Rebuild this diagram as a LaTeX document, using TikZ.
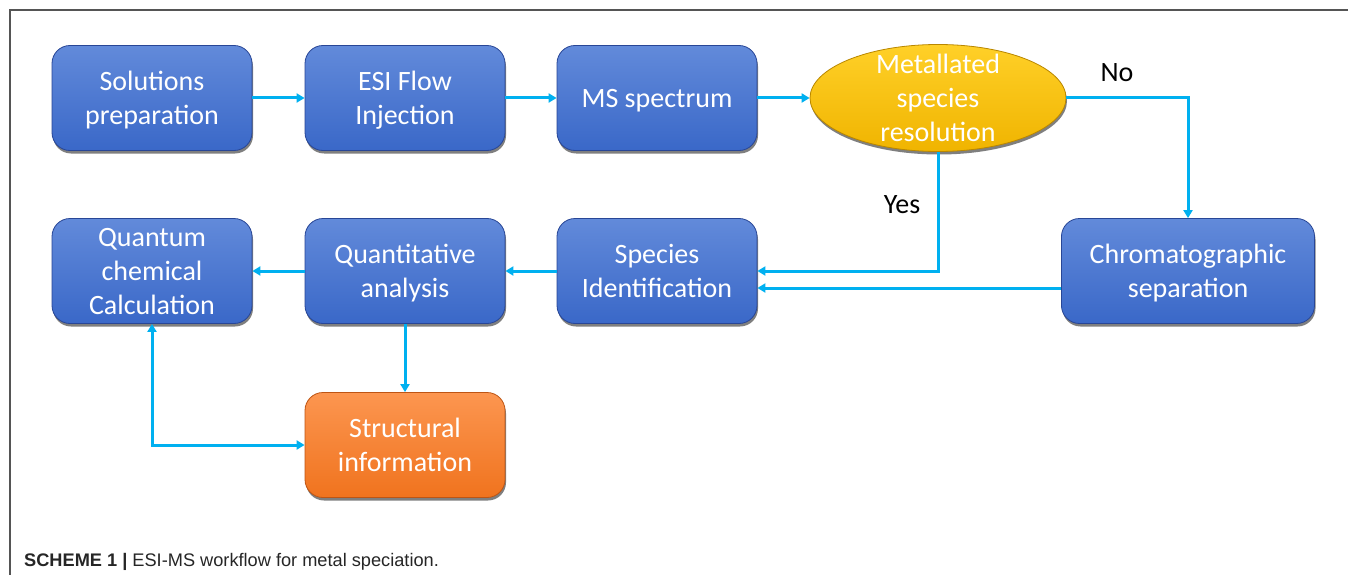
\documentclass[tikz,border=0pt]{standalone}
\usepackage{fontspec}
\setmainfont{Carlito}
\newfontfamily\capfont{Liberation Sans}
\usetikzlibrary{shadows,calc,arrows.meta,shapes.geometric}
\definecolor{arrc}{RGB}{0,176,240}
\definecolor{btop}{RGB}{98,138,218}
\definecolor{bbot}{RGB}{58,104,200}
\definecolor{bedge}{RGB}{40,70,150}
\definecolor{gtop}{RGB}{255,208,40}
\definecolor{gbot}{RGB}{240,180,0}
\definecolor{gedge}{RGB}{185,135,0}
\definecolor{otop}{RGB}{252,150,80}
\definecolor{obot}{RGB}{240,115,30}
\definecolor{oedge}{RGB}{190,85,20}
\definecolor{framec}{RGB}{85,85,85}
\tikzset{
  bluebox/.style={rectangle, rounded corners=18pt, minimum width=200pt, minimum height=105pt,
    inner sep=0pt, top color=btop, bottom color=bbot, draw=bedge, line width=0.8pt,
    text=white, align=center, font=\fontsize{28}{34}\selectfont, text depth=0pt,
    drop shadow={shadow xshift=1pt, shadow yshift=-3pt, opacity=0.5, fill=black}},
  orangebox/.style={bluebox, top color=otop, bottom color=obot, draw=oedge},
  goldell/.style={ellipse, minimum width=256pt, minimum height=107pt, inner xsep=0pt, inner ysep=-14pt,
    top color=gtop, bottom color=gbot, draw=gedge, line width=0.8pt,
    text=white, align=center, font=\fontsize{28}{34}\selectfont, text depth=0pt,
    drop shadow={shadow xshift=1pt, shadow yshift=-3pt, opacity=0.5, fill=black}},
  arr/.style={draw=arrc, line width=3pt, -{Triangle[length=8pt,width=9pt]}},
  lbl/.style={font=\fontsize{28}{34}\selectfont, text=black, inner sep=0pt}
}
\begin{document}
\begin{tikzpicture}[x=1pt,y=-1pt]
\useasboundingbox (0,0) rectangle (1348,575);
\fill[white] (0,0) rectangle (1348,575);
\draw[framec, line width=2pt] (10,575) -- (10,10) -- (1348,10);

\node[bluebox] (sol) at (152,98) {Solutions\\preparation};
\node[bluebox] (esi) at (405,98) {ESI Flow\\Injection};
\node[bluebox] (ms) at (657,98) {MS spectrum};
\node[goldell] (met) at (938,98) {Metallated\\species\\resolution};
\node[bluebox, minimum width=253pt] (chr) at (1188,271) {Chromatographic\\separation};
\node[bluebox] (sp) at (657,271) {Species\\Identification};
\node[bluebox] (qa) at (405,271) {Quantitative\\analysis};
\node[bluebox] (qc) at (152,271) {Quantum\\chemical\\Calculation};
\node[orangebox] (st) at (405,445) {Structural\\information};

\draw[arr] (sol.east) -- (esi.west);
\draw[arr] (esi.east) -- (ms.west);
\draw[arr] (ms.east) -- (met.west);
\draw[arr] (met.east) -| (chr.north);
\draw[arr] (met.south) |- (sp.east);
\coordinate (sp2) at ($(sp.east)+(0,17)$);
\draw[arr] (chr.west |- sp2) -- (sp2);
\draw[arr] (sp.west) -- (qa.east);
\draw[arr] (qa.west) -- (qc.east);
\draw[arr] (qa.south) -- (st.north);
\draw[arr, {Triangle[length=8pt,width=9pt]}-{Triangle[length=8pt,width=9pt]}] (qc.south) |- (st.west);

\node[lbl] (no) at (1117,73) {No};
\node[lbl] (yes) at (902,205) {Yes};

\node[anchor=base west, inner sep=0pt, font=\capfont\fontsize{18.2}{21}\selectfont, text=black!85] (cap) at (24,566)
  {\textbf{SCHEME 1 |} ESI-MS workflow for metal speciation.};
\end{tikzpicture}
\end{document}
